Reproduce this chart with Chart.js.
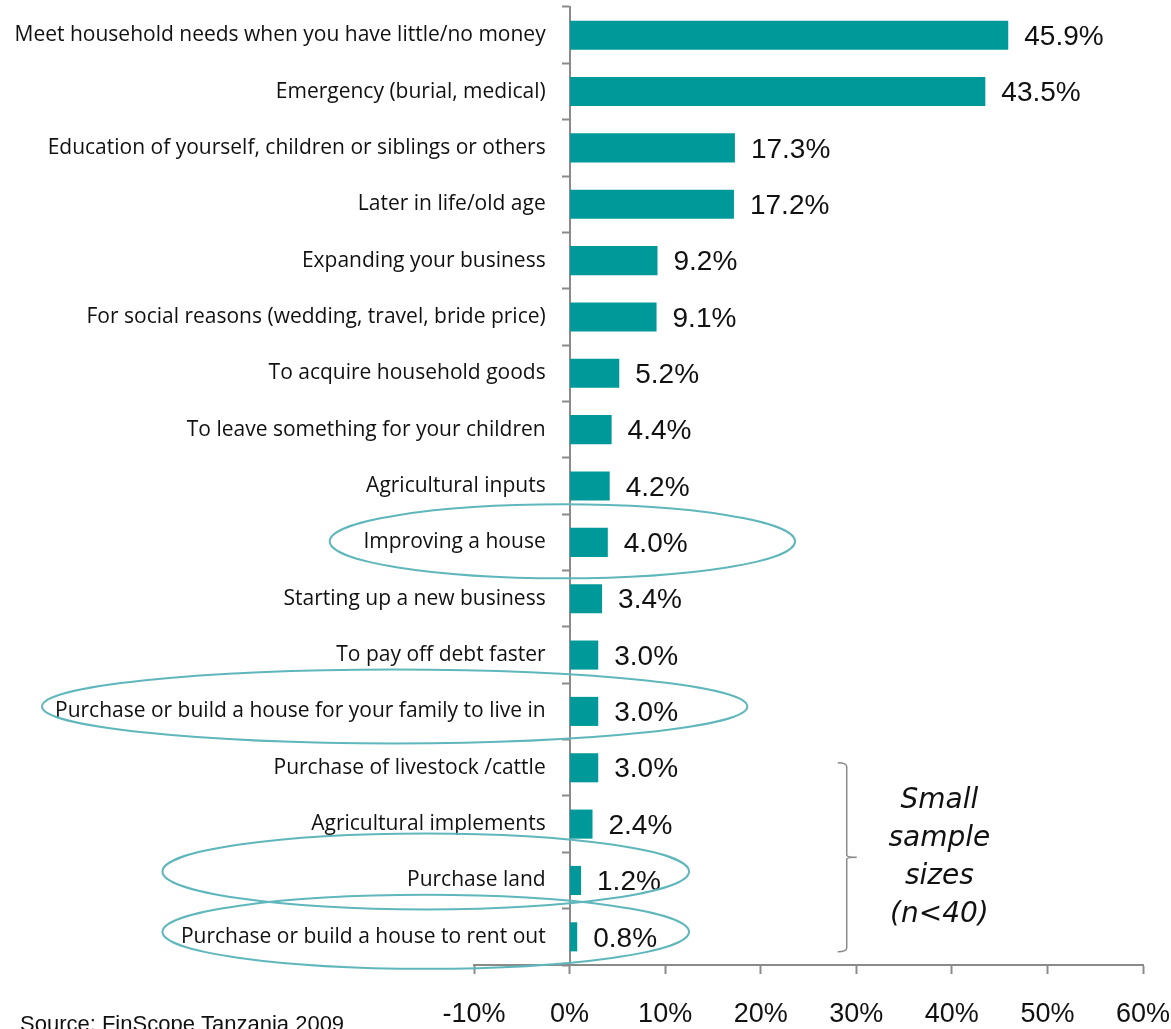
<!DOCTYPE html>
<html>
<head>
<meta charset="utf-8">
<script src="https://cdn.jsdelivr.net/npm/chart.js@4/dist/chart.umd.min.js"></script>
<style>
  html, body { margin: 0; padding: 0; background: #fff; }
  #wrap { width: 1171px; height: 1029px; position: relative; }
</style>
</head>
<body>
<div id="wrap"><canvas id="chart"></canvas></div>
<script>
"use strict";

// reasons for saving, share of savers (%)
var reasons = [
  "Meet household needs when you have little/no money",
  "Emergency (burial, medical)",
  "Education of yourself, children or siblings or others",
  "Later in life/old age",
  "Expanding your business",
  "For social reasons (wedding, travel, bride price)",
  "To acquire household goods",
  "To leave something for your children",
  "Agricultural inputs",
  "Improving a house",
  "Starting up a new business",
  "To pay off debt faster",
  "Purchase or build a house for your family to live in",
  "Purchase of livestock /cattle",
  "Agricultural implements",
  "Purchase land",
  "Purchase or build a house to rent out"
];

var shares = [45.9, 43.5, 17.3, 17.2, 9.2, 9.1, 5.2, 4.4, 4.2, 4.0, 3.4, 3.0, 3.0, 3.0, 2.4, 1.2, 0.8];

var xTicks = [-10, 0, 10, 20, 30, 40, 50, 60];

// housing-related rows get a ring round them
var ringed = [
  { label: "Improving a house", from: -25.1, to: 23.6, dy: -1, ry: 37 },
  { label: "Purchase or build a house for your family to live in", from: -55.2, to: 18.6, dy: -5, ry: 37 },
  { label: "Purchase land", from: -42.6, to: 12.5, dy: -9, ry: 38 },
  { label: "Purchase or build a house to rent out", from: -42.6, to: 12.5, dy: -5, ry: 37 }
];

var smallSample = ["Small", "sample", "sizes", "(n<40)"];

var TEAL = "rgb(0, 153, 153)";
var RING = "rgb(95, 183, 188)";
var GREY = "#8a8a8a";

// percentage printed at the end of every bar
var valueLabels = {
  id: "valueLabels",
  afterDatasetsDraw: function (chart) {
    var ctx = chart.ctx;
    var meta = chart.getDatasetMeta(0);
    ctx.save();
    ctx.font = "28px 'Liberation Sans', Arial, sans-serif";
    ctx.fillStyle = "#111";
    ctx.textAlign = "left";
    ctx.textBaseline = "middle";
    meta.data.forEach(function (bar, i) {
      ctx.fillText(shares[i].toFixed(1) + "%", bar.x + 16, bar.y + 2);
    });
    ctx.restore();
  }
};

// ellipses, bracket and side notes
var notes = {
  id: "notes",
  afterDraw: function (chart) {
    var ctx = chart.ctx;
    var xs = chart.scales.x;
    var ys = chart.scales.y;

    ctx.save();
    ctx.strokeStyle = RING;
    ctx.lineWidth = 2;
    ringed.forEach(function (r) {
      var i = reasons.indexOf(r.label);
      var x1 = xs.getPixelForValue(r.from);
      var x2 = xs.getPixelForValue(r.to);
      var cy = ys.getPixelForValue(i) + r.dy;
      ctx.beginPath();
      ctx.ellipse((x1 + x2) / 2, cy, (x2 - x1) / 2, r.ry, 0, 0, Math.PI * 2);
      ctx.stroke();
    });

    // bracket over the last four rows
    var first = reasons.indexOf("Purchase of livestock /cattle");
    var last = reasons.length - 1;
    var bx = xs.getPixelForValue(29);
    var top = ys.getPixelForValue(first) - 5;
    var bottom = ys.getPixelForValue(last) + 15;
    var mid = (top + bottom) / 2;
    ctx.strokeStyle = GREY;
    ctx.lineWidth = 1.5;
    ctx.beginPath();
    ctx.moveTo(bx - 9, top);
    ctx.quadraticCurveTo(bx, top, bx, top + 4);
    ctx.lineTo(bx, mid - 2);
    ctx.quadraticCurveTo(bx, mid, bx + 10, mid);
    ctx.moveTo(bx, mid + 2);
    ctx.quadraticCurveTo(bx, mid, bx + 10, mid);
    ctx.moveTo(bx, mid + 2);
    ctx.lineTo(bx, bottom - 4);
    ctx.quadraticCurveTo(bx, bottom, bx - 9, bottom);
    ctx.stroke();

    ctx.fillStyle = "#111";
    ctx.font = "italic 28px 'DejaVu Sans', sans-serif";
    ctx.textAlign = "center";
    ctx.textBaseline = "middle";
    var tx = xs.getPixelForValue(38.7);
    smallSample.forEach(function (line, k) {
      ctx.fillText(line, tx, mid + (k - 1.5) * 38);
    });

    ctx.font = "22px 'Liberation Sans', Arial, sans-serif";
    ctx.textAlign = "left";
    ctx.textBaseline = "alphabetic";
    ctx.fillText("Source: FinScope Tanzania 2009", 20, chart.height + 2);
    ctx.restore();
  }
};

var ctx = document.getElementById("chart");

var myChart = new Chart(ctx, {
  type: "bar",
  data: {
    labels: reasons,
    datasets: [{
      data: shares,
      backgroundColor: TEAL,
      borderWidth: 0,
      barPercentage: 0.6,
      categoryPercentage: 0.86
    }]
  },
  options: {
    indexAxis: "y",
    responsive: true,
    maintainAspectRatio: false,
    animation: false,
    layout: { padding: { left: 474, right: 28, top: 7, bottom: 0 } },
    plugins: {
      legend: { display: false },
      tooltip: { enabled: false }
    },
    scales: {
      x: {
        min: -10,
        max: 60,
        afterBuildTicks: function (axis) {
          axis.ticks = xTicks.map(function (v) { return { value: v }; });
        },
        // fixed band under the plot; edge labels may hang into the padding
        afterFit: function (axis) {
          axis.height = 64;
          axis.paddingLeft = 0;
          axis.paddingRight = 0;
        },
        grid: {
          drawOnChartArea: false,
          tickLength: 9,
          tickWidth: 2,
          color: GREY
        },
        border: { color: GREY, width: 2 },
        ticks: {
          padding: 24,
          color: "#111",
          font: { family: "'Liberation Sans', Arial, sans-serif", size: 27 },
          callback: function (v) { return v + "%"; }
        }
      },
      // axis line and row ticks sit on 0%
      y: {
        position: { x: 0 },
        grid: {
          offset: true,
          drawOnChartArea: false,
          tickLength: 7,
          tickWidth: 2,
          color: GREY
        },
        border: { color: GREY, width: 2 },
        ticks: { display: false }
      },
      // row names, right-aligned a little left of the axis line
      yNames: {
        axis: "y",
        type: "category",
        position: { x: -2.5 },
        offset: true,
        afterFit: function (axis) {
          axis.paddingTop = 0;
          axis.paddingBottom = 0;
        },
        grid: { display: false },
        border: { display: false },
        ticks: {
          color: "#111",
          font: { family: "'Open Sans', sans-serif", size: 21 }
        }
      }
    }
  },
  plugins: [valueLabels, notes]
});
</script>
</body>
</html>
